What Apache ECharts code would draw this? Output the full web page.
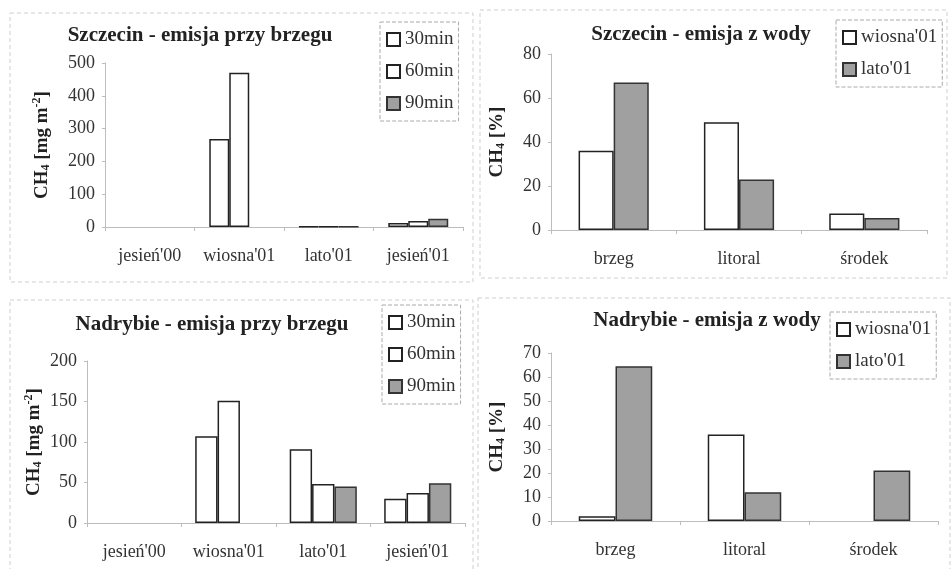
<!DOCTYPE html>
<html>
<head>
<meta charset="utf-8">
<script src="https://cdn.jsdelivr.net/npm/echarts@6/dist/echarts.min.js"></script>
<style>
  html, body { margin: 0; padding: 0; background: #fff; }
  #chart { width: 951px; height: 569px; }
</style>
</head>
<body>
<div id="chart"></div>
<script>
// shore emission categories and values (mg m-2)
const shoreCats = ["jesień'00", "wiosna'01", "lato'01", "jesień'01"];
const szczShore30 = [null, 268, 1, 12];
const szczShore60 = [null, 470, 1, 18];
const szczShore90 = [null, null, 1, 25];
const nadShore30 = [null, 107, 91, 30];
const nadShore60 = [null, 151, 48, 37];
const nadShore90 = [null, null, 45, 49];

// water emission categories and values (%)
const waterCats = ["brzeg", "litoral", "środek"];
const szczWaterSpring = [36, 49, 7.5];
const szczWaterSummer = [67, 23, 5.5];
const nadWaterSpring = [2, 36, null];
const nadWaterSummer = [64.5, 12, 21];

const shoreNames = ["30min", "60min", "90min"];
const waterNames = ["wiosna'01", "lato'01"];

const FONT = "Liberation Serif";
const white = { color: "#fff", borderColor: "#222", borderWidth: 1.5 };
const grey = { color: "#a0a0a0", borderColor: "#333", borderWidth: 1.5 };

const chart = echarts.init(document.getElementById("chart"));

function xAxis(gridIndex, data) {
  return {
    type: "category",
    gridIndex,
    data,
    axisLine: { lineStyle: { color: "#bdbdbd", width: 1 } },
    axisTick: { show: true, length: 4, lineStyle: { color: "#bdbdbd" } },
    axisLabel: { color: "#333", fontFamily: FONT, fontSize: 18, margin: 20, interval: 0, hideOverlap: false },
  };
}

function yAxis(gridIndex, max, interval, name, nameGap) {
  return {
    type: "value",
    gridIndex,
    min: 0,
    max,
    interval,
    name,
    nameLocation: "middle",
    nameGap,
    nameRotate: 90,
    nameTextStyle: {
      rich: {
        a: { fontFamily: FONT, fontWeight: "bold", fontSize: 19, color: "#222" },
        sub: { fontFamily: FONT, fontWeight: "bold", fontSize: 12, color: "#222", padding: [8, 0, 0, 0] },
        sup: { fontFamily: FONT, fontWeight: "bold", fontSize: 12, color: "#222", padding: [0, 0, 10, 0] },
      },
    },
    axisLine: { show: true, lineStyle: { color: "#bdbdbd", width: 1 } },
    axisTick: { show: true, length: 3, lineStyle: { color: "#bdbdbd" } },
    splitLine: { show: false },
    axisLabel: { color: "#333", fontFamily: FONT, fontSize: 18, margin: 10 },
  };
}

function bar(name, idx, data, style, catGap) {
  return {
    name,
    type: "bar",
    xAxisIndex: idx,
    yAxisIndex: idx,
    data,
    barGap: "0%",
    barCategoryGap: catGap,
    itemStyle: style,
    emphasis: { disabled: true },
  };
}

function legend(names, left, top) {
  return {
    data: names,
    orient: "vertical",
    left,
    top,
    icon: "rect",
    itemWidth: 13,
    itemHeight: 13,
    itemGap: 13,
    padding: [8, 5, 8, 6],
    borderColor: "#aaa",
    borderWidth: 1,
    borderType: "dashed",
    textStyle: { fontFamily: FONT, fontSize: 19, color: "#333" },
  };
}

function title(text, x, y) {
  return {
    text,
    left: x,
    top: y,
    textAlign: "center",
    textStyle: { fontFamily: FONT, fontWeight: "bold", fontSize: 21, color: "#222" },
  };
}

function frame(x, y, w, h) {
  return {
    type: "rect",
    shape: { x, y, width: w, height: h },
    style: { fill: null, stroke: "#cfcfcf", lineWidth: 1, lineDash: [4, 3] },
    silent: true,
  };
}

const shoreName = "{a|CH}{sub|4}{a| [mg m}{sup|-2}{a|]}";
const waterName = "{a|CH}{sub|4}{a| [%]}";

const option = {
  animation: false,
  graphic: [
    frame(10, 13, 463, 269),
    frame(480, 10, 467, 268),
    frame(10, 300, 463, 275),
    frame(478, 298, 472, 275),
  ],
  title: [
    title("Szczecin - emisja przy brzegu", 195, 20),
    title("Szczecin - emisja z wody", 696, 19),
    title("Nadrybie - emisja przy brzegu", 207, 309),
    title("Nadrybie - emisja z wody", 702, 305),
  ],
  legend: [
    legend(shoreNames, 380, 22),
    legend(waterNames, 836, 20),
    legend(shoreNames, 382, 305),
    legend(waterNames, 830, 312),
  ],
  grid: [
    { left: 105, right: 488, top: 63, bottom: 342 },
    { left: 551, right: 24, top: 54, bottom: 339 },
    { left: 87, right: 486, top: 361, bottom: 46 },
    { left: 551, right: 13, top: 353, bottom: 48 },
  ],
  xAxis: [
    xAxis(0, shoreCats),
    xAxis(1, waterCats),
    xAxis(2, shoreCats),
    xAxis(3, waterCats),
  ],
  yAxis: [
    yAxis(0, 500, 100, shoreName, 52),
    yAxis(1, 80, 20, waterName, 44),
    yAxis(2, 200, 50, shoreName, 42),
    yAxis(3, 70, 10, waterName, 44),
  ],
  series: [
    bar("30min", 0, szczShore30, white, "33%"),
    bar("60min", 0, szczShore60, white, "33%"),
    bar("90min", 0, szczShore90, grey, "33%"),
    bar("wiosna'01", 1, szczWaterSpring, white, "44%"),
    bar("lato'01", 1, szczWaterSummer, grey, "44%"),
    bar("30min", 2, nadShore30, white, "29%"),
    bar("60min", 2, nadShore60, white, "29%"),
    bar("90min", 2, nadShore90, grey, "29%"),
    bar("wiosna'01", 3, nadWaterSpring, white, "43%"),
    bar("lato'01", 3, nadWaterSummer, grey, "43%"),
  ],
};

chart.setOption(option);
</script>
</body>
</html>
